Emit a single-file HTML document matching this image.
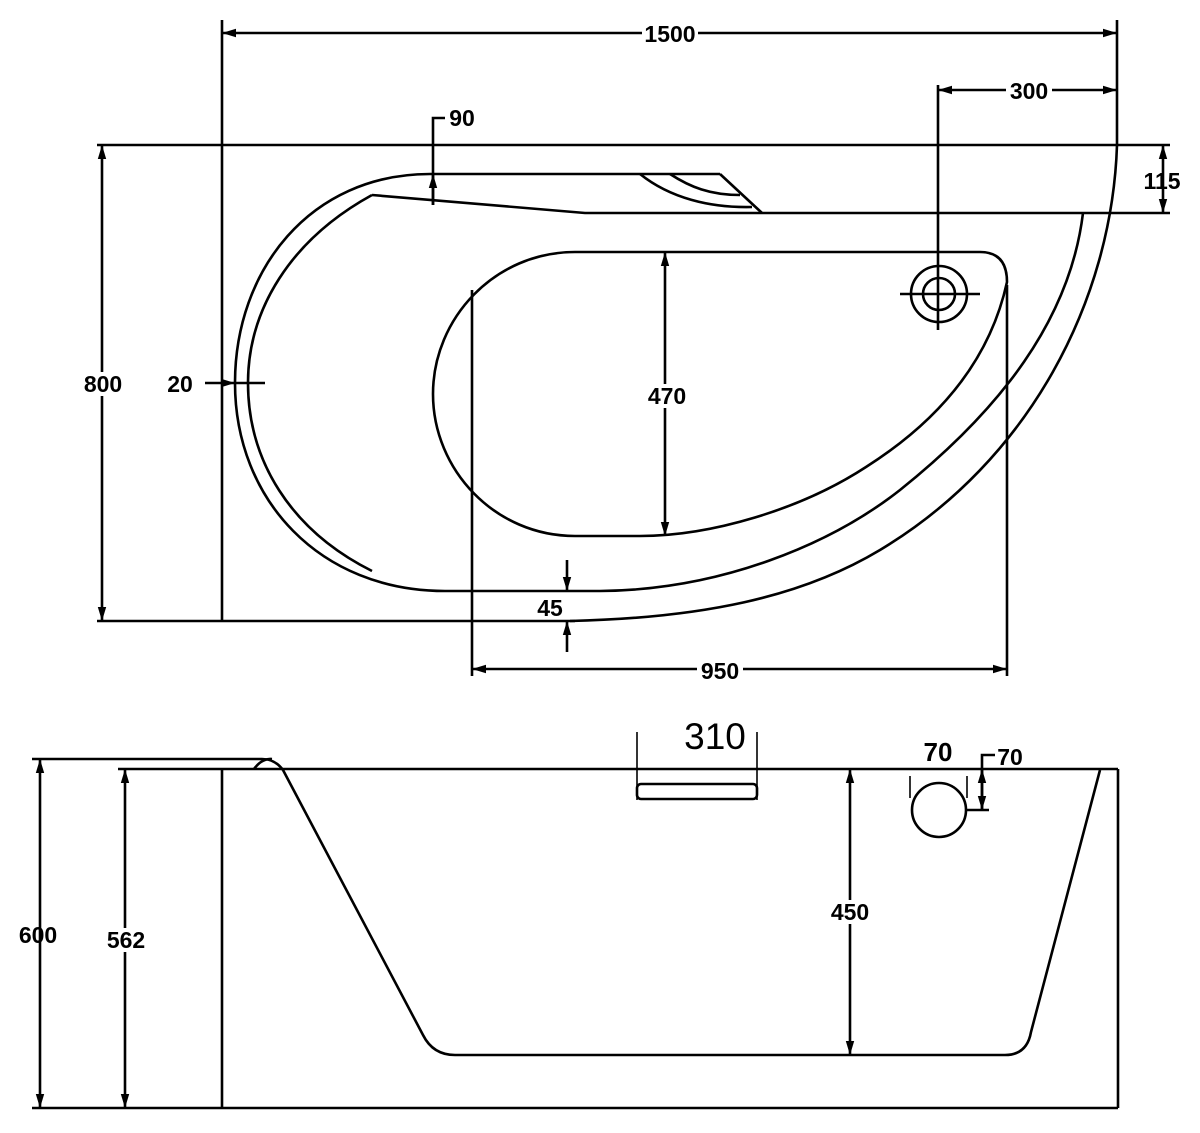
<!DOCTYPE html>
<html><head><meta charset="utf-8"><style>
html,body{margin:0;padding:0;background:#fff;}
svg{display:block;}
text{font-family:"Liberation Sans",sans-serif;font-weight:bold;font-size:23px;fill:#000;}
</style></head><body>
<svg width="1200" height="1133" viewBox="0 0 1200 1133" xmlns="http://www.w3.org/2000/svg">
<defs>
<marker id="a" viewBox="0 0 10 10" refX="10" refY="5" markerWidth="14" markerHeight="14" markerUnits="userSpaceOnUse" orient="auto-start-reverse">
<path d="M0,2 L10,5 L0,8 z" fill="#000"/></marker>
</defs>
<g fill="none" stroke="#000" stroke-width="2.6">
<line x1="222" y1="20" x2="222" y2="621"/>
<line x1="97" y1="145" x2="1170" y2="145"/>
<line x1="97" y1="621" x2="575" y2="621"/>
<line x1="1117" y1="20" x2="1117" y2="145"/>
<path d="M1117,145 C1112,300 1030,460 880,550 C800,598 700,618 570,621"/>
<path d="M430,174 C310,174 235,270 235,383 C235,500 320,591 445,591 L600,591 C720,590 830,545 900,490 C1000,410 1070,320 1083,213"/>
<path d="M372,195 C290,240 248,310 248,383 C248,460 290,530 372,571"/>
<line x1="430" y1="174" x2="720" y2="174"/>
<line x1="720" y1="174" x2="762" y2="213"/>
<path d="M372,195 L585,213 L1170,213"/>
<path d="M640,174 C670,198 710,208 752,207"/>
<path d="M670,174 C690,187 710,195 740,195"/>
<path d="M575,252 L980,252 Q1007,252 1007,282 C990,360 940,420 866,467 C800,510 710,536 640,536 L575,536 C495,536 433,470 433,394 C433,318 495,252 575,252 Z"/>
<circle cx="939" cy="294" r="28"/>
<circle cx="939" cy="294" r="16"/>
<line x1="900" y1="294" x2="980" y2="294"/>
<line x1="938" y1="85" x2="938" y2="330"/>
<line x1="472" y1="290" x2="472" y2="676"/>
<line x1="1007" y1="285" x2="1007" y2="676"/>
<line x1="222" y1="33" x2="1117" y2="33" marker-start="url(#a)" marker-end="url(#a)"/>
<line x1="938" y1="90" x2="1117" y2="90" marker-start="url(#a)" marker-end="url(#a)"/>
<line x1="1163" y1="145" x2="1163" y2="213" marker-start="url(#a)" marker-end="url(#a)"/>
<line x1="102" y1="145" x2="102" y2="621" marker-start="url(#a)" marker-end="url(#a)"/>
<line x1="665" y1="252" x2="665" y2="536" marker-start="url(#a)" marker-end="url(#a)"/>
<line x1="472" y1="669" x2="1007" y2="669" marker-start="url(#a)" marker-end="url(#a)"/>
<path d="M445,118 L433,118 L433,205"/>
<line x1="433" y1="205" x2="433" y2="174" marker-end="url(#a)"/>
<line x1="205" y1="383" x2="235" y2="383" marker-end="url(#a)"/>
<line x1="235" y1="383" x2="265" y2="383"/>
<line x1="567" y1="560" x2="567" y2="591" marker-end="url(#a)"/>
<line x1="567" y1="652" x2="567" y2="621" marker-end="url(#a)"/>
<path d="M32,759 L262,759 Q275,759 283,770"/>
<path d="M254,769 Q262,758 272,759"/>
<line x1="118" y1="769" x2="1118" y2="769"/>
<line x1="222" y1="769" x2="222" y2="1108"/>
<line x1="1118" y1="769" x2="1118" y2="1108"/>
<line x1="32" y1="1108" x2="1118" y2="1108"/>
<path d="M283,770 L423,1035 Q433,1055 455,1055 L1005,1055 Q1027,1055 1031,1032 L1100,770"/>
<rect x="637" y="784" width="120" height="15" rx="4"/>
<line x1="637" y1="732" x2="637" y2="800" stroke-width="1.6"/>
<line x1="757" y1="732" x2="757" y2="800" stroke-width="1.6"/>
<circle cx="939" cy="810" r="27"/>
<line x1="910" y1="776" x2="910" y2="798" stroke-width="1.6"/>
<line x1="967" y1="776" x2="967" y2="798" stroke-width="1.6"/>
<path d="M995,755 L982,755 L982,810"/>
<line x1="966" y1="810" x2="989" y2="810"/>
<line x1="982" y1="790" x2="982" y2="769" marker-end="url(#a)"/>
<line x1="982" y1="790" x2="982" y2="810" marker-end="url(#a)"/>
<line x1="40" y1="759" x2="40" y2="1108" marker-start="url(#a)" marker-end="url(#a)"/>
<line x1="125" y1="769" x2="125" y2="1108" marker-start="url(#a)" marker-end="url(#a)"/>
<line x1="850" y1="769" x2="850" y2="1055" marker-start="url(#a)" marker-end="url(#a)"/>
</g>
<g>
<rect x="642" y="22" width="56" height="22" fill="#fff"/>
<text x="670" y="42" text-anchor="middle">1500</text>
<rect x="1006" y="80" width="46" height="22" fill="#fff"/>
<text x="1029" y="99" text-anchor="middle">300</text>
<text x="1162" y="189" text-anchor="middle">115</text>
<text x="462" y="126" text-anchor="middle">90</text>
<rect x="80" y="372" width="46" height="24" fill="#fff"/>
<text x="103" y="392" text-anchor="middle">800</text>
<text x="180" y="392" text-anchor="middle">20</text>
<rect x="644" y="384" width="46" height="24" fill="#fff"/>
<text x="667" y="404" text-anchor="middle">470</text>
<text x="550" y="616" text-anchor="middle">45</text>
<rect x="697" y="658" width="46" height="24" fill="#fff"/>
<text x="720" y="679" text-anchor="middle">950</text>
<text x="38" y="943" text-anchor="middle">600</text>
<rect x="103" y="928" width="46" height="24" fill="#fff"/>
<text x="126" y="948" text-anchor="middle">562</text>
<rect x="827" y="900" width="46" height="24" fill="#fff"/>
<text x="850" y="920" text-anchor="middle">450</text>
<text x="715" y="749" text-anchor="middle" style="font-size:37px;font-weight:normal">310</text>
<text x="938" y="761" text-anchor="middle" style="font-size:26px">70</text>
<text x="1010" y="765" text-anchor="middle" style="font-size:23px">70</text>
</g>
</svg>
</body></html>
